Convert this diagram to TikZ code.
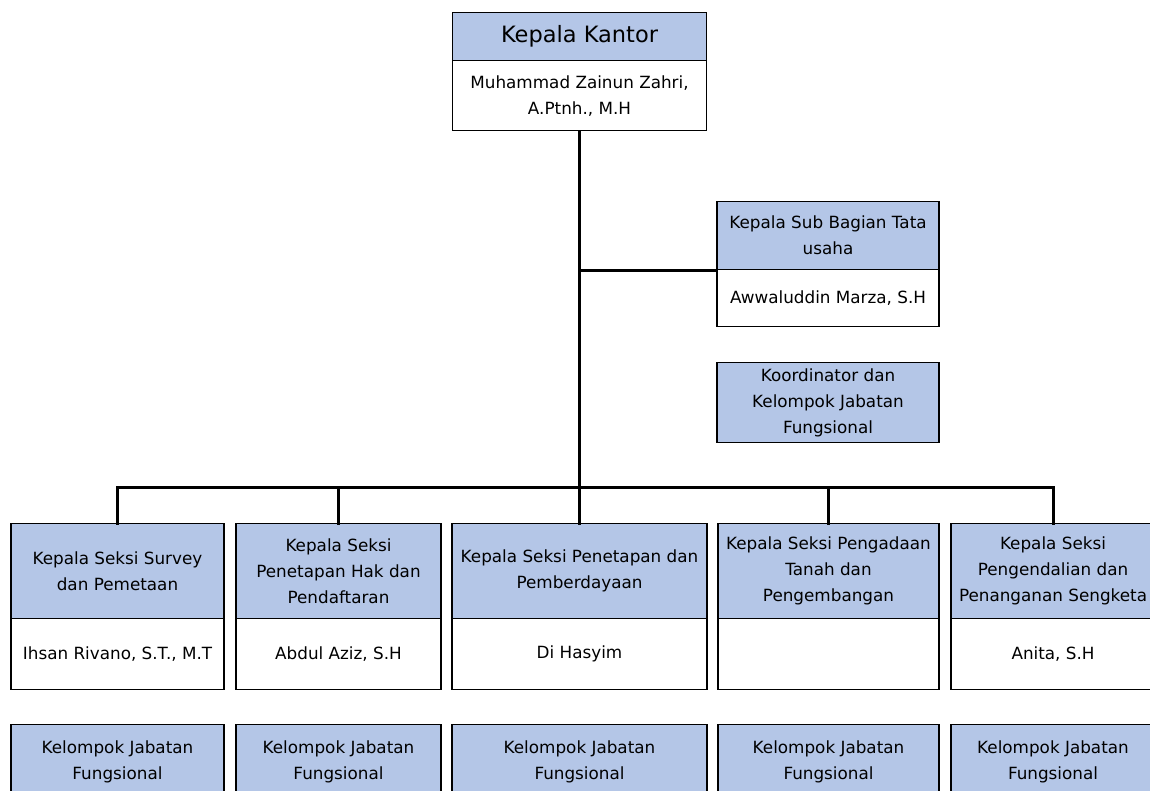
\documentclass[tikz,border=0pt]{standalone}
\usepackage{fontspec}
\setmainfont{DejaVu Sans}
\definecolor{jabatan}{HTML}{B4C6E7}
\tikzset{
  kotak/.style={draw, line width=1.4pt, inner sep=0pt, align=center, anchor=north,
    font=\fontsize{16.8}{26}\selectfont},
  judul/.style={kotak, fill=jabatan},
  nama/.style={kotak, fill=white},
  garis/.style={line width=3pt},
}
\begin{document}
\begin{tikzpicture}[x=1pt, y=-1pt, line cap=rect, line join=miter]
  \useasboundingbox (0,0) rectangle (1150,791);
  \clip (0,0) rectangle (1150,791);

  % Kepala kantor
  \node[judul, minimum width=254, minimum height=48, font=\fontsize{22.5}{26}\selectfont]
    (kantor) at (579.5,12) {Kepala Kantor};
  \node[nama, minimum width=254, minimum height=70] (kantorNama) at (579.5,60)
    {Muhammad Zainun Zahri,\\A.Ptnh., M.H};

  % Tata usaha dan koordinator
  \node[judul, minimum width=222, minimum height=68] (tuJudul) at (828,201)
    {Kepala Sub Bagian Tata\\usaha};
  \node[nama, minimum width=222, minimum height=57] (tuNama) at (828,269)
    {Awwaluddin Marza, S.H};
  \node[judul, minimum width=222, minimum height=80] (koordinator) at (828,362)
    {Koordinator dan\\Kelompok Jabatan\\Fungsional};

  % Kepala seksi
  \node[judul, minimum width=213, minimum height=95] (survei) at (117.5,523)
    {Kepala Seksi Survey\\dan Pemetaan};
  \node[judul, minimum width=205, minimum height=95] (hak) at (338.5,523)
    {Kepala Seksi\\Penetapan Hak dan\\Pendaftaran};
  \node[judul, minimum width=255, minimum height=95] (berdaya) at (579.5,523)
    {Kepala Seksi Penetapan dan\\Pemberdayaan};
  \node[judul, minimum width=221, minimum height=95] (pengadaan) at (828.5,523)
    {Kepala Seksi Pengadaan\\Tanah dan\\Pengembangan};
  \node[judul, minimum width=204, minimum height=95] (sengketa) at (1053,523)
    {Kepala Seksi\\Pengendalian dan\\Penanganan Sengketa};

  \node[nama, minimum width=213, minimum height=71] (surveiNama) at (117.5,618)
    {Ihsan Rivano, S.T., M.T};
  \node[nama, minimum width=205, minimum height=71] (hakNama) at (338.5,618)
    {Abdul Aziz, S.H};
  \node[nama, minimum width=255, minimum height=71] (berdayaNama) at (579.5,618)
    {Di Hasyim};
  \node[nama, minimum width=221, minimum height=71] (pengadaanNama) at (828.5,618) {};
  \node[nama, minimum width=204, minimum height=71] (sengketaNama) at (1053,618)
    {Anita, S.H};

  % Kelompok jabatan fungsional
  \node[judul, minimum width=213, minimum height=74] (kelompokA) at (117.5,724)
    {Kelompok Jabatan\\Fungsional};
  \node[judul, minimum width=205, minimum height=74] (kelompokB) at (338.5,724)
    {Kelompok Jabatan\\Fungsional};
  \node[judul, minimum width=255, minimum height=74] (kelompokC) at (579.5,724)
    {Kelompok Jabatan\\Fungsional};
  \node[judul, minimum width=221, minimum height=74] (kelompokD) at (828.5,724)
    {Kelompok Jabatan\\Fungsional};
  \node[judul, minimum width=204, minimum height=74] (kelompokE) at (1053,724)
    {Kelompok Jabatan\\Fungsional};

  % Garis
  \coordinate (bus) at (579.5,487);
  \draw[garis] (kantorNama.south) -- (berdaya.north);
  \draw[garis] (tuJudul.south west) -- (tuJudul.south west -| kantorNama.south);
  \draw[garis] (survei.north) |- (bus) -| (sengketa.north);
  \draw[garis] (hak.north) -- (hak.north |- bus);
  \draw[garis] (pengadaan.north) -- (pengadaan.north |- bus);
\end{tikzpicture}
\end{document}
